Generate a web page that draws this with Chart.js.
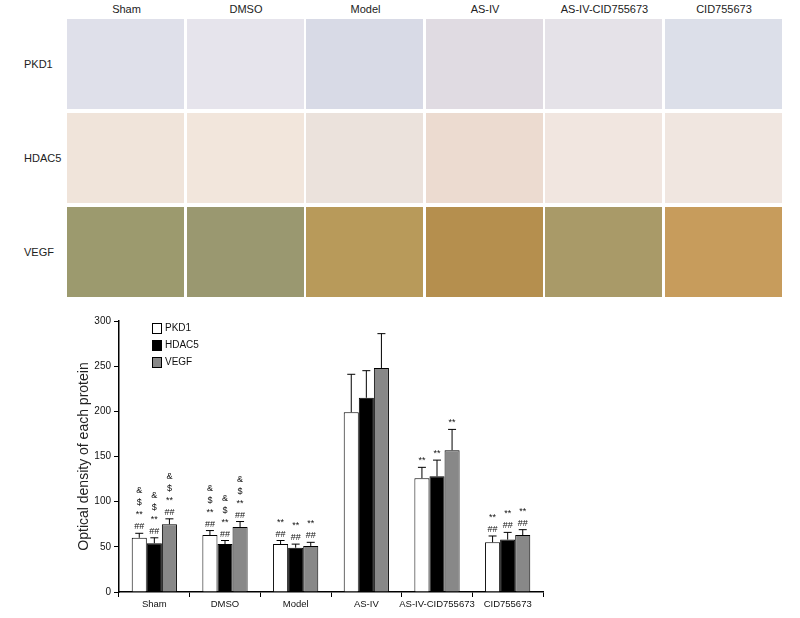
<!DOCTYPE html><html><head><meta charset="utf-8">
<script src="https://cdn.jsdelivr.net/npm/chart.js@4"></script>
<style>
body{margin:0;width:800px;height:618px;background:#fff;position:relative;font-family:"Liberation Sans",Arial,sans-serif;overflow:hidden}
.p{position:absolute;width:117px;height:90px}
.cl{position:absolute;top:3px;width:119px;text-align:center;font-size:11px;color:#222}
.rl{position:absolute;left:24px;font-size:11px;color:#222}
#w{position:absolute;left:0;top:305px;width:800px;height:313px}
</style></head><body>
<div id="panels"></div>
<div id="w"><canvas id="c" width="800" height="313"></canvas></div>
<script>
const categories=["Sham","DMSO","Model","AS-IV","AS-IV-CID755673","CID755673"];
const seriesNames=["PKD1","HDAC5","VEGF"];
const pkd1=[60,63,53,199,126,55];
const hdac5=[54,53,49,215,128,58];
const vegf=[75,72,51,248,157,63];
const pkd1Err=[5,5,4,42,12,7];
const hdac5Err=[6,4,4,30,18,8];
const vegfErr=[6,6,4,38,23,6];
const pkd1Marks=[["&","$","**","##"],["&","$","**","##"],["**","##"],[],["**"],["**","##"]];
const hdac5Marks=[["&","$","**","##"],["&","$","**","##"],["**","##"],[],["**"],["**","##"]];
const vegfMarks=[["&","$","**","##"],["&","$","**","##"],["**","##"],[],["**"],["**","##"]];
const rowNames=["PKD1","HDAC5","VEGF"];
const yTicks=[0,50,100,150,200,250,300];

const pc=[["#dfe0ea","#e6e4ec","#d8dae6","#e0dbe2","#e5e2e8","#dcdfe9"],
          ["#f0e4da","#f2e6dc","#ebe2dc","#ecdbd0","#f1e6e0","#f0e6e0"],
          ["#9c9a6e","#9a9870","#b89a5a","#b58f4e","#a99a68","#c79c5c"]];
const P=document.getElementById('panels');
categories.forEach((c,i)=>{const d=document.createElement('div');d.className='cl';d.style.left=(67+i*119.5)+'px';d.textContent=c;P.appendChild(d);});
rowNames.forEach((r,j)=>{const d=document.createElement('div');d.className='rl';d.style.top=(58+j*94)+'px';d.textContent=r;P.appendChild(d);
 categories.forEach((c,i)=>{const e=document.createElement('div');e.className='p';e.style.left=(67+i*119.5)+'px';e.style.top=(19+j*94)+'px';e.style.background=pc[j][i];P.appendChild(e);});});

const errs=[pkd1Err,hdac5Err,vegfErr], marks=[pkd1Marks,hdac5Marks,vegfMarks];
const extra={id:'extra',afterDatasetsDraw(ch){
 const x=ch.ctx;x.save();
 ch.data.datasets.forEach((ds,di)=>{const m=ch.getDatasetMeta(di);
  m.data.forEach((b,i)=>{const v=ds.data[i],e=errs[di][i];const yt=ch.scales.y.getPixelForValue(v+e);
   x.strokeStyle='#000';x.lineWidth=1;x.beginPath();x.moveTo(b.x,b.y);x.lineTo(b.x,yt);x.moveTo(b.x-4,yt);x.lineTo(b.x+4,yt);x.stroke();
   x.fillStyle='#111';x.font='9px "Liberation Sans",Arial';x.textAlign='center';
   const mk=marks[di][i];for(let k=mk.length-1,y=yt-4;k>=0;k--,y-=12){x.fillText(mk[k],b.x,y);}
  });});
 const cols=['#fff','#000','#888'];
 seriesNames.forEach((n,i)=>{const y=323+i*17-305;x.fillStyle=cols[i];x.strokeStyle='#000';x.fillRect(152,y,9,10);x.strokeRect(152.5,y+0.5,9,10);
  x.fillStyle='#111';x.font='10px "Liberation Sans",Arial';x.textAlign='left';x.textBaseline='middle';x.fillText(n,165,y+5.5);x.textBaseline='alphabetic';});
 x.restore();}};

new Chart(document.getElementById('c'),{type:'bar',
 data:{labels:categories,datasets:[
  {label:seriesNames[0],data:pkd1,backgroundColor:'#fff',borderColor:'#000',borderWidth:1},
  {label:seriesNames[1],data:hdac5,backgroundColor:'#000',borderColor:'#000',borderWidth:1},
  {label:seriesNames[2],data:vegf,backgroundColor:'#888',borderColor:'#000',borderWidth:1}]},
 options:{responsive:false,animation:false,layout:{padding:{top:16,right:257,left:72,bottom:0}},
  datasets:{bar:{categoryPercentage:0.64,barPercentage:1}},
  plugins:{legend:{display:false},tooltip:{enabled:false}},
  scales:{
   x:{offset:true,afterFit(s){s.height=26;},border:{color:'#000',width:1.5},
      grid:{offset:true,drawOnChartArea:false,color:'#000',tickLength:5},
      ticks:{color:'#111',maxRotation:0,minRotation:0,autoSkip:false,font:{size:9.5,family:'"Liberation Sans",Arial'},padding:2}},
   y:{min:0,max:300,afterFit(s){s.width=47;},border:{color:'#000',width:1.5},
      afterBuildTicks(s){s.ticks=yTicks.map(v=>({value:v}));},
      grid:{drawOnChartArea:false,color:'#000',tickLength:5},
      ticks:{color:'#111',font:{size:10,family:'"Liberation Sans",Arial'},padding:3},
      title:{display:true,text:'Optical density of each protein',color:'#222',font:{size:14,family:'"Liberation Sans",Arial'},padding:{bottom:2}}}}},
 plugins:[extra]});
</script></body></html>
